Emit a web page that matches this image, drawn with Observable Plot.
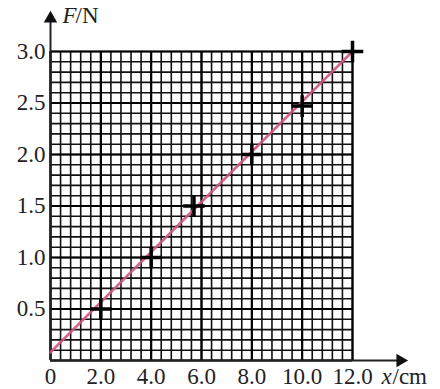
<!DOCTYPE html>
<html>
<head>
<meta charset="utf-8">
<script src="https://cdn.jsdelivr.net/npm/d3@7"></script>
<script src="https://cdn.jsdelivr.net/npm/@observablehq/plot@0.6"></script>
<style>
  html, body { margin: 0; padding: 0; background: #fff; }
  svg text { font-family: "Liberation Serif", "Times New Roman", serif; }
</style>
</head>
<body>
<div id="chart"></div>
<script>
// Tick values and labels
const xTickValues = [0, 2, 4, 6, 8, 10, 12];
const xTickLabels = ["0", "2.0", "4.0", "6.0", "8.0", "10.0", "12.0"];
const yTickValues = [0.5, 1.0, 1.5, 2.0, 2.5, 3.0];
const yTickLabels = ["0.5", "1.0", "1.5", "2.0", "2.5", "3.0"];

// Measured points (x in cm, F in N)
const pointX = [2.0, 4.0, 5.7, 8.0, 10.0, 12.0];
const pointF = [0.5, 1.0, 1.5, 2.0, 2.47, 3.0];

// Fitted line endpoints
const fitX = [0, 12];
const fitF = [0.08, 3.0];

// Grid spacing
const xMinorStep = 0.4, xMajorStep = 2;
const yMinorStep = 0.1, yMajorStep = 0.5;
const xMax = 12, yMax = 3;

const xMinor = d3.range(0, xMax + 1e-9, xMinorStep);
const yMinor = d3.range(0, yMax + 1e-9, yMinorStep);
const xMajor = d3.range(0, xMax + 1e-9, xMajorStep);
const yMajor = d3.range(0, yMax + 1e-9, yMajorStep);

const points = pointX.map((x, i) => ({x, F: pointF[i]}));
const fit = fitX.map((x, i) => ({x, F: fitF[i]}));

const font = "Liberation Serif";

const chart = Plot.plot({
  width: 440,
  height: 389,
  marginLeft: 50,
  marginRight: 88,
  marginTop: 51,
  marginBottom: 29,
  x: {domain: [0, xMax], axis: null},
  y: {domain: [0, yMax], axis: null},
  style: {fontFamily: font, fontSize: "23px", background: "#fff", color: "#000"},
  marks: [
    // minor grid
    Plot.ruleX(xMinor, {y1: 0, y2: yMax, stroke: "#111", strokeWidth: 1.6}),
    Plot.ruleY(yMinor, {x1: 0, x2: xMax, stroke: "#111", strokeWidth: 1.6}),
    // major grid
    Plot.ruleX(xMajor, {y1: 0, y2: yMax, stroke: "#000", strokeWidth: 2.2}),
    Plot.ruleY(yMajor, {x1: 0, x2: xMax, stroke: "#000", strokeWidth: 2.2}),
    // axes with arrows
    Plot.ruleX([0], {y1: 0, y2: 3.32, stroke: "#222", strokeWidth: 2}),
    Plot.ruleY([0], {x1: 0, x2: 13.9, stroke: "#222", strokeWidth: 2}),
    Plot.dot([{x: 0, F: 3.32}], {x: "x", y: "F", symbol: "triangle", r: 5, fill: "#111", stroke: null}),
    Plot.dot([{x: 13.9, F: 0}], {x: "x", y: "F", symbol: "triangle", r: 5, fill: "#111", stroke: null, rotate: 90}),
    // fitted line
    Plot.line(fit, {x: "x", y: "F", stroke: "#cf5585", strokeWidth: 2.6, strokeOpacity: 0.9}),
    // data points
    Plot.dot(points, {x: "x", y: "F", symbol: "plus", r: 7, stroke: "#000", strokeWidth: 3.5}),
    // tick labels
    Plot.text(yTickValues, {x: 0, y: d => d, text: (d, i) => yTickLabels[i], textAnchor: "end", dx: -5, fontSize: 23, fontFamily: font, fill: "#222"}),
    Plot.text(xTickValues, {x: d => d, y: 0, text: (d, i) => xTickLabels[i], lineAnchor: "top", dy: 7, fontSize: 23, fontFamily: font, fill: "#222"}),
    // axis labels
    Plot.text(["F"], {frameAnchor: "top-left", dx: 12, dy: -45, fontStyle: "italic", fontSize: 23, fontFamily: font, lineAnchor: "top", textAnchor: "start", fill: "#222"}),
    Plot.text(["/N"], {frameAnchor: "top-left", dx: 25, dy: -45, fontSize: 23, fontFamily: font, lineAnchor: "top", textAnchor: "start", fill: "#222"}),
    Plot.text(["x"], {frameAnchor: "bottom-right", dx: 29, dy: 7, fontStyle: "italic", fontSize: 23, fontFamily: font, lineAnchor: "top", textAnchor: "start", fill: "#222"}),
    Plot.text(["/cm"], {frameAnchor: "bottom-right", dx: 40, dy: 7, fontSize: 23, fontFamily: font, lineAnchor: "top", textAnchor: "start", fill: "#222"})
  ]
});

document.getElementById("chart").appendChild(chart);
</script>
</body>
</html>
